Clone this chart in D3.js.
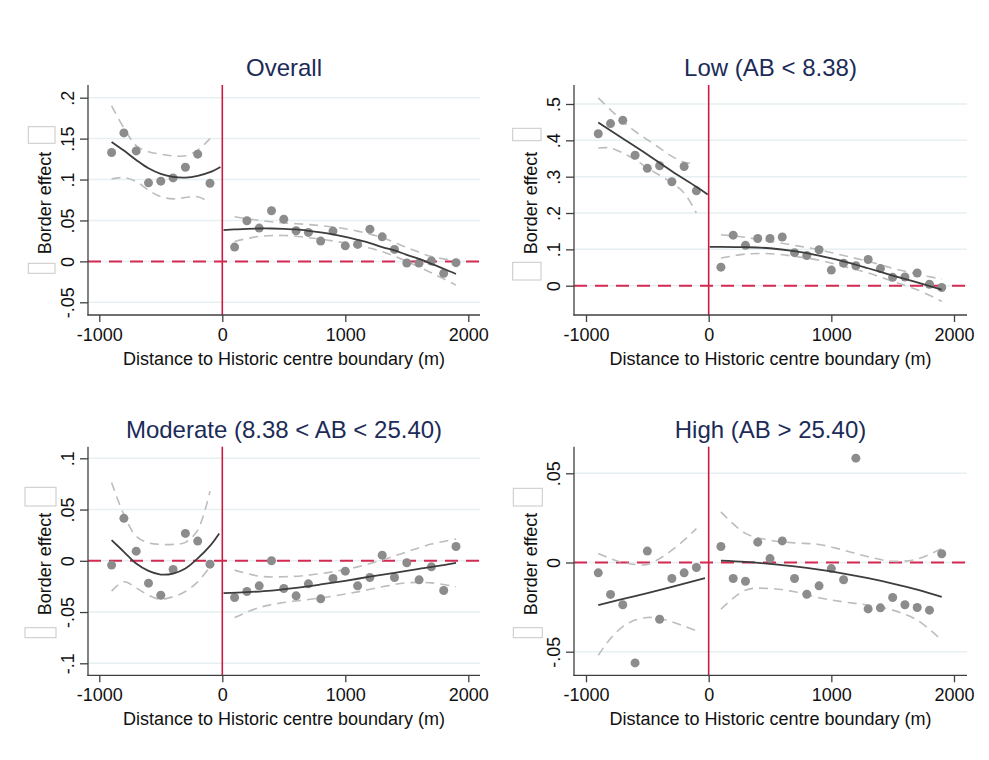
<!DOCTYPE html>
<html>
<head>
<meta charset="utf-8">
<script src="https://cdn.jsdelivr.net/npm/d3@7"></script>
<style>
body { margin: 0; background: #fff; }
svg { display: block; font-family: "Liberation Sans", Arial, sans-serif; }
</style>
</head>
<body>
<div id="chart"></div>
<script>
// distance bins (m)
const binLeft = [-900, -800, -700, -600, -500, -400, -300, -200, -100];
const binRight = [100, 200, 300, 400, 500, 600, 700, 800, 900, 1000, 1100, 1200, 1300, 1400, 1500, 1600, 1700, 1800, 1900];
const ciRightX = [100, 300, 500, 700, 900, 1100, 1300, 1500, 1700, 1900];
const xTicks = [-1000, 0, 1000, 2000];
const titles = ["Overall", "Low (AB < 8.38)", "Moderate (8.38 < AB < 25.40)", "High (AB > 25.40)"];

// Overall
const overallTicks = [-0.05, 0, 0.05, 0.1, 0.15, 0.2];
const overallPts = [0.133, 0.157, 0.135, 0.096, 0.098, 0.102, 0.115, 0.131, 0.0955,
  0.0175, 0.0496, 0.0407, 0.0618, 0.0516, 0.0374, 0.0354, 0.0248, 0.037, 0.019, 0.0207, 0.0394, 0.030, 0.0146, -0.002, -0.002, 0.0004, -0.0146, -0.0016];
const overallFitLX = [-900, -800, -700, -600, -500, -400, -300, -200, -100, -15];
const overallFitL = [0.146, 0.1354, 0.124, 0.1138, 0.107, 0.1033, 0.1024, 0.1045, 0.109, 0.1154];
const overallFitRX = [10, 100, 200, 300, 400, 500, 600, 700, 800, 900, 1000, 1100, 1200, 1300, 1400, 1500, 1600, 1700, 1800, 1900];
const overallFitR = [0.0382, 0.039, 0.0398, 0.0402, 0.0402, 0.0398, 0.039, 0.0374, 0.0354, 0.033, 0.030, 0.0264, 0.0224, 0.0175, 0.0134, 0.008, 0.003, -0.003, -0.009, -0.0154];
const overallHiL = [0.19, 0.163, 0.1415, 0.134, 0.131, 0.129, 0.129, 0.136, 0.150];
const overallLoL = [0.1008, 0.1024, 0.0976, 0.087, 0.079, 0.0764, 0.078, 0.079, 0.072];
const overallHiR = [0.0545, 0.050, 0.047, 0.045, 0.042, 0.037, 0.029, 0.017, 0.006, 0.001];
const overallLoR = [0.0244, 0.0305, 0.0317, 0.029, 0.025, 0.0195, 0.012, 0, -0.014, -0.029];

// Low
const lowTicks = [0, 0.1, 0.2, 0.3, 0.4, 0.5];
const lowPts = [0.418, 0.446, 0.455, 0.359, 0.323, 0.330, 0.286, 0.328, 0.261,
  0.051, 0.139, 0.111, 0.130, 0.130, 0.134, 0.091, 0.083, 0.099, 0.043, 0.062, 0.055, 0.072, 0.047, 0.023, 0.024, 0.035, 0.004, -0.005];
const lowFitLX = [-900, -700, -500, -300, -100, -8];
const lowFitL = [0.449, 0.405, 0.361, 0.315, 0.272, 0.251];
const lowFitRX = [8, 100, 300, 500, 700, 900, 1100, 1300, 1500, 1700, 1900];
const lowFitR = [0.107, 0.107, 0.106, 0.103, 0.095, 0.083, 0.067, 0.048, 0.028, 0.009, -0.011];
const lowHiL = [0.517, 0.484, 0.452, 0.425, 0.402, 0.379, 0.356, 0.340, 0.335];
const lowLoL = [0.379, 0.379, 0.365, 0.347, 0.324, 0.304, 0.283, 0.255, 0.200];
const lowHiR = [0.140, 0.133, 0.122, 0.111, 0.099, 0.083, 0.067, 0.048, 0.032, 0.018];
const lowLoR = [0.076, 0.087, 0.088, 0.081, 0.070, 0.053, 0.035, 0.012, -0.011, -0.043];

// Moderate
const modTicks = [-0.1, -0.05, 0, 0.05, 0.1];
const modPts = [-0.0042, 0.0414, 0.0094, -0.0218, -0.0336, -0.0085, 0.0267, 0.0192, -0.0033,
  -0.0358, -0.030, -0.0244, 0, -0.027, -0.0342, -0.0225, -0.0371, -0.0173, -0.0101, -0.0244, -0.0163, 0.0055, -0.0163, -0.002, -0.0186, -0.0059, -0.029, 0.014];
const modFitLX = [-900, -800, -700, -600, -500, -400, -300, -200, -100, -25];
const modFitL = [0.0202, 0.0088, -0.0026, -0.0098, -0.0134, -0.0124, -0.0075, 0.0023, 0.0145, 0.0267];
const modFitRX = [10, 200, 400, 600, 800, 1000, 1200, 1400, 1600, 1800, 1900];
const modFitR = [-0.0316, -0.0306, -0.029, -0.0264, -0.0231, -0.0195, -0.0155, -0.0117, -0.0078, -0.0042, -0.002];
const modHiL = [0.0765, 0.045, 0.024, 0.0175, 0.016, 0.016, 0.018, 0.030, 0.068];
const modLoL = [-0.0296, -0.0205, -0.0264, -0.0336, -0.0375, -0.035, -0.030, -0.0205, -0.006];
const modHiR = [-0.0091, -0.015, -0.0156, -0.014, -0.0107, -0.0059, 0.0007, 0.0088, 0.0163, 0.0212];
const modLoR = [-0.0554, -0.0456, -0.0407, -0.0378, -0.0345, -0.0303, -0.0254, -0.0215, -0.0215, -0.0254];

// High
const highTicks = [-0.05, 0, 0.05];
const highPts = [-0.0058, -0.0179, -0.0237, -0.0563, 0.0064, -0.0318, -0.009, -0.0058, -0.0028,
  0.009, -0.009, -0.0105, 0.0114, 0.0022, 0.0121, -0.009, -0.0178, -0.0131, -0.0034, -0.0097, 0.0585, -0.026, -0.0254, -0.0196, -0.0237, -0.0252, -0.0267, 0.0049];
const highFitLX = [-900, -600, -300, -30];
const highFitL = [-0.0239, -0.0188, -0.0137, -0.0088];
const highFitRX = ciRightX;
const highFitR = [0.0011, 0.0004, -0.0008, -0.0022, -0.004, -0.0062, -0.0088, -0.0118, -0.0152, -0.0193];
const highHiL = [0.005, 0.0022, 0, -0.0011, -0.0011, 0.0022, 0.0069, 0.0125, 0.019];
const highLoL = [-0.052, -0.0426, -0.036, -0.0323, -0.0308, -0.0314, -0.0333, -0.0357, -0.0383];
const highHiR = [0.0284, 0.0163, 0.0125, 0.011, 0.0101, 0.0069, 0.0032, 0.0007, 0.0019, 0.0079];
const highLoR = [-0.0262, -0.0155, -0.0146, -0.0164, -0.0198, -0.0221, -0.0239, -0.0267, -0.0323, -0.0436];

// panel frames (pixel layout)
const frames = [
  { left: 88, right: 480, top: 85, bottom: 315, xr: [99.3, 468.3], yr: [302.3, 97.7],
    boxes: [[28.3, 126.7, 26.7, 16.6], [28.3, 263.3, 26.7, 10]] },
  { left: 574, right: 967, top: 85, bottom: 315, xr: [586, 954], yr: [285.7, 104],
    boxes: [[512.7, 128.3, 28.3, 12.4], [512.7, 262.3, 28.3, 17.7]] },
  { left: 88, right: 480, top: 446.7, bottom: 675.3, xr: [99.3, 468.3], yr: [663.3, 458.3],
    boxes: [[25, 487.3, 31, 18.7], [25, 627.7, 31, 10]] },
  { left: 574, right: 967, top: 446.7, bottom: 675.3, xr: [586, 954], yr: [651.7, 473.3],
    boxes: [[513.3, 488.3, 29, 17.7], [513.3, 627.7, 29, 10]] }
];

const series = [
  { ticks: overallTicks, pts: overallPts, fitLX: overallFitLX, fitL: overallFitL, fitRX: overallFitRX, fitR: overallFitR,
    hiL: overallHiL, loL: overallLoL, hiR: overallHiR, loR: overallLoR },
  { ticks: lowTicks, pts: lowPts, fitLX: lowFitLX, fitL: lowFitL, fitRX: lowFitRX, fitR: lowFitR,
    hiL: lowHiL, loL: lowLoL, hiR: lowHiR, loR: lowLoR },
  { ticks: modTicks, pts: modPts, fitLX: modFitLX, fitL: modFitL, fitRX: modFitRX, fitR: modFitR,
    hiL: modHiL, loL: modLoL, hiR: modHiR, loR: modLoR },
  { ticks: highTicks, pts: highPts, fitLX: highFitLX, fitL: highFitL, fitRX: highFitRX, fitR: highFitR,
    hiL: highHiL, loL: highLoL, hiR: highHiR, loR: highLoR }
];

const bins = binLeft.concat(binRight);
const zip = (xs, ys) => xs.map((d, i) => [d, ys[i]]);
const stataFmt = d => d === 0 ? "0" : String(d).replace("0.", ".");

const svg = d3.select("#chart").append("svg")
  .attr("width", 989)
  .attr("height", 760);

function drawPanel(f, s, title) {
  const g = svg.append("g");
  const x = d3.scaleLinear().domain([-1000, 2000]).range(f.xr);
  const y = d3.scaleLinear().domain([s.ticks[0], s.ticks[s.ticks.length - 1]]).range(f.yr);
  const line = d3.line().x(d => x(d[0])).y(d => y(d[1])).curve(d3.curveCatmullRom);

  // gridlines
  g.selectAll(".grid").data(s.ticks).join("line")
    .attr("x1", f.left).attr("x2", f.right)
    .attr("y1", d => y(d)).attr("y2", d => y(d))
    .attr("stroke", "#e6eff1").attr("stroke-width", 1.5);

  // reference lines
  g.append("line")
    .attr("x1", x(0)).attr("x2", x(0)).attr("y1", f.top).attr("y2", f.bottom)
    .attr("stroke", "#cc1a40").attr("stroke-width", 1.6);
  g.append("line")
    .attr("x1", f.left).attr("x2", f.right).attr("y1", y(0)).attr("y2", y(0))
    .attr("stroke", "#d42a52").attr("stroke-width", 2)
    .attr("stroke-dasharray", "13,8");

  // confidence bands
  [zip(binLeft, s.hiL), zip(binLeft, s.loL), zip(ciRightX, s.hiR), zip(ciRightX, s.loR)].forEach(c => {
    g.append("path").attr("d", line(c))
      .attr("fill", "none").attr("stroke", "#bdbdbd").attr("stroke-width", 1.6)
      .attr("stroke-dasharray", "9,6");
  });

  // points
  g.selectAll(".pt").data(zip(bins, s.pts)).join("circle")
    .attr("cx", d => x(d[0])).attr("cy", d => y(d[1])).attr("r", 4.5)
    .attr("fill", "#8c8c8c");

  // fitted lines
  [zip(s.fitLX, s.fitL), zip(s.fitRX, s.fitR)].forEach(c => {
    g.append("path").attr("d", line(c))
      .attr("fill", "none").attr("stroke", "#3d3d3d").attr("stroke-width", 1.8);
  });

  // axes
  const yAx = g.append("g").attr("transform", `translate(${f.left},0)`)
    .call(d3.axisLeft(y).tickValues(s.ticks).tickSize(8).tickFormat(stataFmt));
  yAx.select(".domain").remove();
  yAx.selectAll("line").attr("stroke", "#404040").attr("stroke-width", 1.3);
  yAx.selectAll("text")
    .attr("transform", "rotate(-90)")
    .attr("x", 0).attr("y", -14.5).attr("dy", null)
    .attr("text-anchor", "middle")
    .attr("fill", "#111").style("font-size", "18px");

  const xAx = g.append("g").attr("transform", `translate(0,${f.bottom})`)
    .call(d3.axisBottom(x).tickValues(xTicks).tickSize(7).tickFormat(d => String(d)));
  xAx.select(".domain").remove();
  xAx.selectAll("line").attr("stroke", "#404040").attr("stroke-width", 1.3);
  xAx.selectAll("text").attr("y", 26).attr("dy", null)
    .attr("fill", "#111").style("font-size", "18px");

  g.append("line").attr("x1", f.left).attr("x2", f.left).attr("y1", f.top).attr("y2", f.bottom + 0.6)
    .attr("stroke", "#404040").attr("stroke-width", 1.3);
  g.append("line").attr("x1", f.left - 0.6).attr("x2", f.right).attr("y1", f.bottom).attr("y2", f.bottom)
    .attr("stroke", "#404040").attr("stroke-width", 1.3);

  // label boxes
  f.boxes.forEach(b => {
    g.append("rect").attr("x", b[0]).attr("y", b[1]).attr("width", b[2]).attr("height", b[3])
      .attr("fill", "#fff").attr("stroke", "#c8c8c8").attr("stroke-width", 1);
  });

  // titles
  const cx = (f.left + f.right) / 2;
  g.append("text").attr("x", cx).attr("y", f.top - 9)
    .attr("text-anchor", "middle").attr("fill", "#1c2b57")
    .style("font-size", "24px").text(title);
  g.append("text").attr("x", cx).attr("y", f.bottom + 50)
    .attr("text-anchor", "middle").attr("fill", "#111")
    .style("font-size", "18px").text("Distance to Historic centre boundary (m)");
  g.append("text")
    .attr("transform", `translate(${f.left - 37},${(f.top + f.bottom) / 2 + 3}) rotate(-90)`)
    .attr("text-anchor", "middle").attr("fill", "#111")
    .style("font-size", "18px").text("Border effect");
}

frames.forEach((f, i) => drawPanel(f, series[i], titles[i]));
</script>
</body>
</html>
